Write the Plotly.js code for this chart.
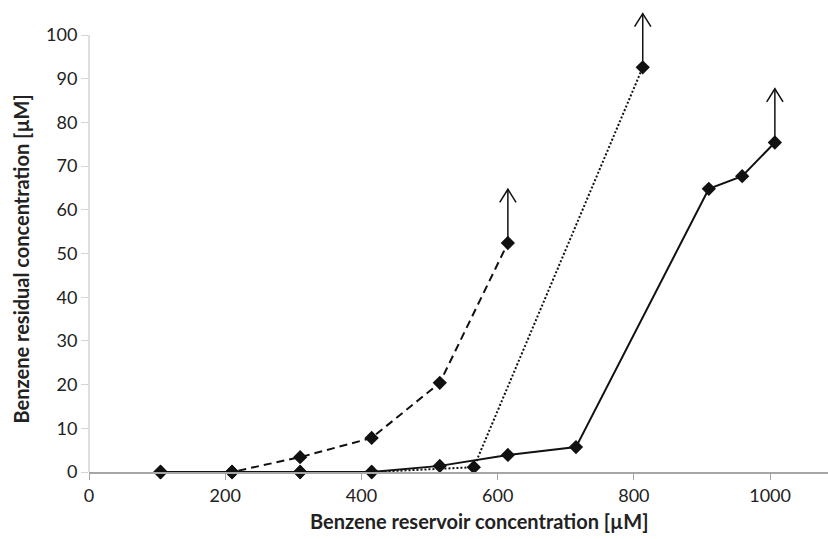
<!DOCTYPE html>
<html>
<head>
<meta charset="utf-8">
<script src="https://cdn.plot.ly/plotly-3.0.1.min.js"></script>
<style>html,body{margin:0;padding:0;background:#fff;}#chart{width:828px;height:539px;}</style>
</head>
<body>
<div id="chart"></div>
<script>
// Data
const dashedX = [105, 210, 310, 415, 515, 615];
const dashedY = [0, 0, 3.4, 7.8, 20.4, 52.4];

const dottedX = [105, 210, 310, 415, 565, 813];
const dottedY = [0, 0, 0, 0, 1.1, 92.6];

const solidX = [105, 210, 310, 415, 515, 615, 715, 910, 959, 1007];
const solidY = [0, 0, 0, 0, 1.4, 3.9, 5.7, 64.8, 67.7, 75.4];

const xTicks = [0, 200, 400, 600, 800, 1000];
const yTicks = [0, 10, 20, 30, 40, 50, 60, 70, 80, 90, 100];

const xTitle = 'Benzene reservoir concentration [µM]';
const yTitle = 'Benzene residual concentration [µM]';

const FONT = 'Lato, "Open Sans", sans-serif';
const marker = {symbol: 'diamond', size: 11, color: '#111'};

function series(x, y, dash) {
  return {x: x, y: y, mode: 'lines+markers', type: 'scatter',
    line: {color: '#111', width: 2, dash: dash}, marker: marker,
    hoverinfo: 'skip', showlegend: false, cliponaxis: false};
}

// Open-headed arrows pointing up from the last point of each series
const ARROW_LEN = 12.3, WING_DX = 12, WING_DY = 3;
function arrow(x, y) {
  const lx = x[x.length - 1], ly = y[y.length - 1];
  const tip = ly + ARROW_LEN;
  return {x: [lx, lx, null, lx - WING_DX, lx, lx + WING_DX],
          y: [ly, tip, null, tip - WING_DY, tip, tip - WING_DY],
          mode: 'lines', type: 'scatter', line: {color: '#111', width: 1.5},
          hoverinfo: 'skip', showlegend: false, cliponaxis: false};
}

const data = [
  series(dottedX, dottedY, '2px,2px'),
  series(dashedX, dashedY, '8px,5px'),
  series(solidX, solidY, 'solid'),
  arrow(dashedX, dashedY),
  arrow(dottedX, dottedY),
  arrow(solidX, solidY)
];

const yMax = yTicks[yTicks.length - 1];
const layout = {
  width: 828, height: 539,
  margin: {l: 89, r: 0, t: 0, b: 67, pad: 0},
  paper_bgcolor: '#fff', plot_bgcolor: '#fff',
  font: {family: FONT, size: 18, color: '#222'},
  xaxis: {range: [0, 1085], tickvals: xTicks, ticktext: xTicks.map(String),
    showgrid: false, zeroline: false, showline: true, linecolor: '#a6a6a6', linewidth: 2,
    ticks: 'outside', ticklen: 6, tickcolor: '#a6a6a6', tickwidth: 1,
    tickfont: {family: FONT, size: 18, color: '#222'}, fixedrange: true},
  yaxis: {range: [0, yMax * 472 / 437], tickvals: yTicks, ticktext: yTicks.map(String),
    showgrid: false, zeroline: false, showline: false,
    ticks: 'outside', ticklen: 7, tickcolor: '#d4d4d4', tickwidth: 1,
    tickfont: {family: FONT, size: 18, color: '#222'}, fixedrange: true},
  shapes: [
    {type: 'line', xref: 'paper', yref: 'y', x0: 0, x1: 0, y0: 0, y1: yMax,
     line: {color: '#d4d4d4', width: 1.5}, layer: 'below'}
  ],
  annotations: [
    {text: xTitle, xref: 'paper', yref: 'paper', x: (479 - 89) / 739, y: -(521 - 472) / 472,
     showarrow: false, xanchor: 'center', yanchor: 'middle',
     font: {family: FONT, size: 20, color: '#222', weight: 'bold'}},
    {text: yTitle, xref: 'paper', yref: 'paper', x: -(89 - 20.5) / 739, y: (472 - 259) / 472, textangle: -90,
     showarrow: false, xanchor: 'center', yanchor: 'middle',
     font: {family: FONT, size: 20, color: '#222', weight: 'bold'}}
  ]
};

Plotly.newPlot('chart', data, layout, {displayModeBar: false, staticPlot: true});
</script>
</body>
</html>
